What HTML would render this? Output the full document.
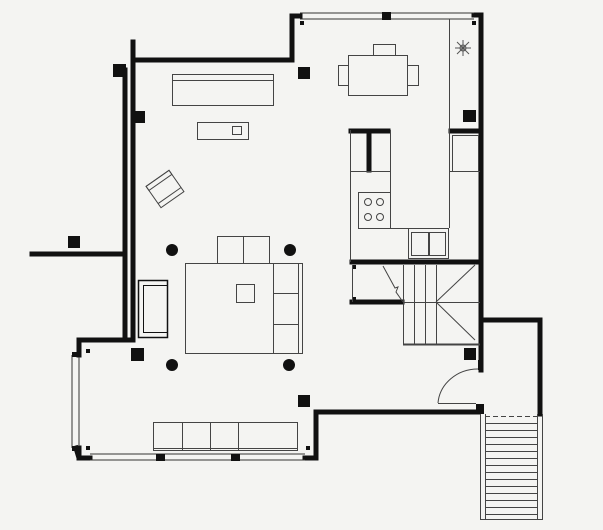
<!DOCTYPE html>
<html><head><meta charset="utf-8"><style>
html,body{margin:0;padding:0;background:#f4f4f2;}
svg{display:block;}
</style></head><body>
<svg width="603" height="530" viewBox="0 0 603 530" xmlns="http://www.w3.org/2000/svg">
<rect width="603" height="530" fill="#f4f4f2"/>
<g fill="none" stroke="#111" stroke-width="5" stroke-linecap="square">
  <!-- left walls -->
  <line x1="133" y1="42" x2="133" y2="340"/>
  <line x1="125" y1="70" x2="125" y2="340"/>
  <polyline points="133,60 292,60 292,16 300,16"/>
  <line x1="32" y1="254" x2="123" y2="254"/>
  <polyline points="133,340 79,340 79,355"/>
  <polyline points="76,448 79,458 90,458"/>
  <line x1="79" y1="448" x2="79" y2="458"/>
  <!-- bottom right -->
  <polyline points="305,458 316,458 316,412 478,412"/>
  <!-- kitchen right wall -->
  <polyline points="474,15 481,15 481,370"/>
  <polyline points="482,320 540,320 540,414"/>
  <!-- kitchen/stairs wall -->
  <line x1="352" y1="262" x2="481" y2="262"/>
  <line x1="352" y1="302" x2="402" y2="302"/>
  <line x1="451" y1="131" x2="479" y2="131"/>
  <line x1="351" y1="131" x2="388" y2="131"/>
  <line x1="369" y1="131" x2="369" y2="170"/>
</g>
<!-- windows -->
<g fill="none" stroke="#333" stroke-width="1">
  <line x1="300" y1="13" x2="474" y2="13"/>
  <line x1="300" y1="19" x2="474" y2="19"/>
  <line x1="72" y1="355" x2="72" y2="448"/>
  <line x1="79" y1="355" x2="79" y2="448"/>
  <line x1="90" y1="454" x2="305" y2="454"/>
  <line x1="90" y1="460" x2="305" y2="460"/>
</g>
<g fill="#111">
  <rect x="382" y="12" width="9" height="8"/>
  <rect x="156" y="454" width="9" height="7"/>
  <rect x="231" y="454" width="9" height="7"/>
  <rect x="72" y="352" width="8" height="5"/>
  <rect x="72" y="446" width="8" height="5"/>
  <rect x="113" y="64" width="13" height="13"/>
  <rect x="133" y="111" width="12" height="12"/>
  <rect x="68" y="236" width="12" height="12"/>
  <rect x="298" y="67" width="12" height="12"/>
  <rect x="463" y="110" width="13" height="12"/>
  <rect x="131" y="348" width="13" height="13"/>
  <rect x="298" y="395" width="12" height="12"/>
  <rect x="464" y="348" width="12" height="12"/>
  <rect x="300" y="21" width="4" height="4"/>
  <rect x="472" y="21" width="4" height="4"/>
  <rect x="86" y="349" width="4" height="4"/>
  <rect x="86" y="446" width="4" height="4"/>
  <rect x="306" y="446" width="4" height="4"/>
  <rect x="476" y="404" width="8" height="10"/>
  <rect x="478" y="360" width="5" height="10"/>
  <rect x="352" y="265" width="4" height="4"/>
  <rect x="352" y="297" width="4" height="4"/>
  <circle cx="172" cy="250" r="6"/>
  <circle cx="290" cy="250" r="6"/>
  <circle cx="172" cy="365" r="6"/>
  <circle cx="289" cy="365" r="6"/>
</g>
<g fill="none" stroke="#444" stroke-width="1">
  <!-- sofa top -->
  <rect x="172.5" y="74.5" width="101" height="31"/>
  <line x1="172" y1="80.5" x2="274" y2="80.5"/>
  <rect x="197.5" y="122.5" width="51" height="17"/>
  <rect x="232.5" y="126.5" width="9" height="8"/>
  <!-- armchair -->
  <g transform="translate(165,189) rotate(-35)">
    <rect x="-14" y="-13" width="28" height="26"/>
    <rect x="-14" y="-13" width="28" height="5"/>
    <line x1="-14" y1="8" x2="14" y2="8"/>
  </g>
  <!-- living group -->
  <rect x="185.5" y="263.5" width="88" height="90"/>
  <rect x="236.5" y="284.5" width="18" height="18"/>
  <rect x="217.5" y="236.5" width="26" height="27"/>
  <rect x="243.5" y="236.5" width="26" height="27"/>
  <rect x="273.5" y="263.5" width="29" height="90"/>
  <line x1="298.5" y1="263" x2="298.5" y2="353"/>
  <line x1="273" y1="293.5" x2="298" y2="293.5"/>
  <line x1="273" y1="324.5" x2="298" y2="324.5"/>
  <!-- left sofa -->
  <rect x="138.5" y="280.5" width="29" height="57" stroke="#111" stroke-width="1.5"/>
  <polyline points="167,285.5 143.5,285.5 143.5,332.5 167,332.5" stroke="#111"/>
  <!-- bottom counter -->
  <rect x="153.5" y="422.5" width="144" height="28"/>
  <line x1="182.5" y1="422" x2="182.5" y2="450"/>
  <line x1="210.5" y1="422" x2="210.5" y2="450"/>
  <line x1="238.5" y1="422" x2="238.5" y2="450"/>
  <line x1="153" y1="448.5" x2="297" y2="448.5"/>
  <!-- dining -->
  <rect x="348.5" y="55.5" width="59" height="40"/>
  <rect x="373.5" y="44.5" width="22" height="11"/>
  <rect x="338.5" y="65.5" width="10" height="20"/>
  <rect x="407.5" y="65.5" width="11" height="20"/>
  <!-- plant -->
  <g stroke="#555" transform="translate(463,48)">
    <line x1="-8" y1="0" x2="8" y2="0"/><line x1="0" y1="-8" x2="0" y2="8"/>
    <line x1="-6" y1="-6" x2="6" y2="6"/><line x1="-6" y1="6" x2="6" y2="-6"/>
    <circle r="3"/>
  </g>
  <!-- kitchen -->
  <line x1="449.5" y1="19" x2="449.5" y2="228"/>
  <rect x="452.5" y="135.5" width="26" height="36"/>
  <line x1="449" y1="171.5" x2="480" y2="171.5"/>
  <line x1="350.5" y1="130" x2="350.5" y2="262"/>
  <line x1="390.5" y1="130" x2="390.5" y2="228"/>
  <line x1="350" y1="171.5" x2="390" y2="171.5"/>
  <rect x="358.5" y="192.5" width="32" height="36"/>
  <circle cx="368" cy="202" r="3.5"/><circle cx="380" cy="202" r="3.5"/>
  <circle cx="368" cy="217" r="3.5"/><circle cx="380" cy="217" r="3.5"/>
  <line x1="390" y1="228.5" x2="449" y2="228.5"/>
  <rect x="408.5" y="228.5" width="40" height="30"/>
  <rect x="411.5" y="232.5" width="17" height="23"/>
  <rect x="429.5" y="232.5" width="16" height="23"/>
  <!-- interior stair -->
  <line x1="352.5" y1="265" x2="352.5" y2="302"/>
  <line x1="403.5" y1="265" x2="403.5" y2="345"/>
  <line x1="414.5" y1="265" x2="414.5" y2="345"/>
  <line x1="425.5" y1="265" x2="425.5" y2="345"/>
  <line x1="436.5" y1="265" x2="436.5" y2="345"/>
  <line x1="403" y1="302.5" x2="480" y2="302.5"/>
  <line x1="436" y1="302" x2="475" y2="265"/>
  <line x1="436" y1="302" x2="475" y2="340"/>
  <line x1="403" y1="344.5" x2="480" y2="344.5" stroke-width="2"/>
  <polyline points="383,266 395,288 398,287 396,292 403,302"/>
  <!-- door -->
  <path d="M438,403 A40,37 0 0 1 478,369"/>
  <line x1="438" y1="403.5" x2="476" y2="403.5"/>
  <!-- exterior stair -->
  <line x1="480.5" y1="414" x2="480.5" y2="520"/>
  <line x1="485.5" y1="414" x2="485.5" y2="520"/>
  <line x1="537.5" y1="414" x2="537.5" y2="520"/>
  <line x1="542.5" y1="414" x2="542.5" y2="520"/>
  <line x1="480" y1="519.5" x2="543" y2="519.5"/>
  <line x1="485" y1="416.5" x2="540" y2="416.5" stroke-dasharray="5,3"/>
</g>
<g stroke="#444" stroke-width="1">
  <line x1="485" y1="423.5" x2="538" y2="423.5"/><line x1="485" y1="430.5" x2="538" y2="430.5"/>
  <line x1="485" y1="437.5" x2="538" y2="437.5"/><line x1="485" y1="444.5" x2="538" y2="444.5"/>
  <line x1="485" y1="451.5" x2="538" y2="451.5"/><line x1="485" y1="458.5" x2="538" y2="458.5"/>
  <line x1="485" y1="465.5" x2="538" y2="465.5"/><line x1="485" y1="472.5" x2="538" y2="472.5"/>
  <line x1="485" y1="479.5" x2="538" y2="479.5"/><line x1="485" y1="486.5" x2="538" y2="486.5"/>
  <line x1="485" y1="493.5" x2="538" y2="493.5"/><line x1="485" y1="500.5" x2="538" y2="500.5"/>
  <line x1="485" y1="507.5" x2="538" y2="507.5"/><line x1="485" y1="514.5" x2="538" y2="514.5"/>
</g>
</svg>
</body></html>
